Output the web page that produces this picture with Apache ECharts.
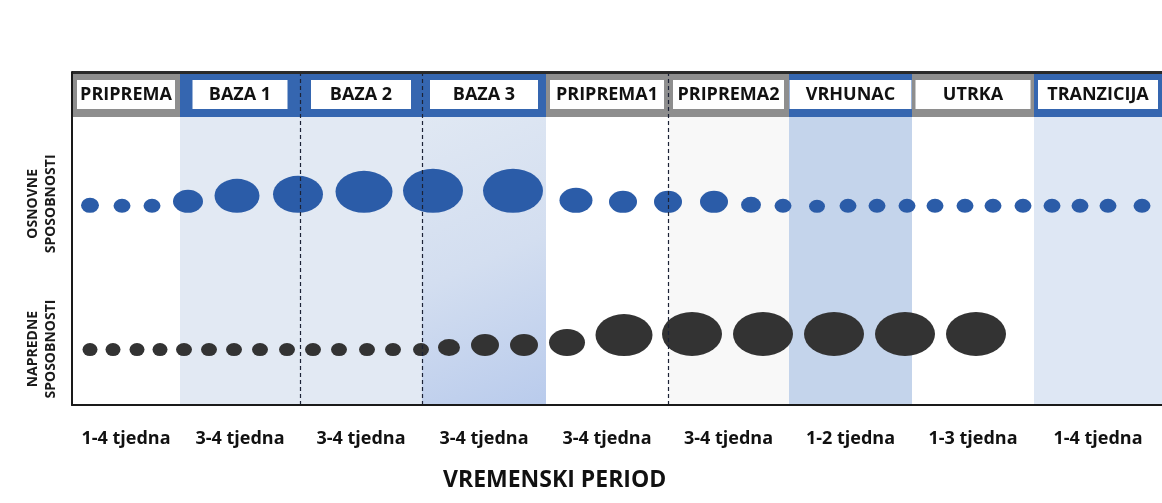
<!DOCTYPE html>
<html>
<head>
<meta charset="utf-8">
<script src="https://cdn.jsdelivr.net/npm/echarts@6/dist/echarts.min.js"></script>
<style>
  html, body { margin: 0; padding: 0; background: #fff; }
  #chart { width: 1162px; height: 503px; }
</style>
</head>
<body>
<div id="chart"></div>
<script>
// periodi
const periodNames = ['PRIPREMA', 'BAZA 1', 'BAZA 2', 'BAZA 3', 'PRIPREMA1', 'PRIPREMA2', 'VRHUNAC', 'UTRKA', 'TRANZICIJA'];
const periodWeeks = ['1-4 tjedna', '3-4 tjedna', '3-4 tjedna', '3-4 tjedna', '3-4 tjedna', '3-4 tjedna', '1-2 tjedna', '1-3 tjedna', '1-4 tjedna'];
const periodKinds = ['prep', 'base', 'base', 'base3', 'prep', 'prep2', 'peak', 'race', 'trans'];
// granice perioda na vremenskoj osi
const periodEdges = [0, 108, 228, 350, 474, 596, 717, 840, 962, 1090];
const dashedEdges = [228, 350, 596];

// redovi (sposobnosti)
const rowNames = ['NAPREDNE\nSPOSOBNOSTI', 'OSNOVNE\nSPOSOBNOSTI'];
const rowLevels = [14.7, 57.7];
const rowLabelLevels = [16.8, 60.4];

// osnovne sposobnosti: položaj u vremenu i opseg (veličina točke)
const basicX = [18, 50, 80, 116, 165, 226, 292, 361, 441, 504, 551, 596, 642, 679, 711, 745, 776, 805, 835, 863, 893, 921, 951, 980, 1008, 1036, 1070];
const basicVolume = [18, 17, 17, 30, 45, 50, 57, 60, 60, 33, 28, 28, 28, 20, 17, 16, 17, 17, 17, 17, 17, 17, 17, 17, 17, 17, 17];

// napredne sposobnosti
const advancedX = [18, 41, 65, 88, 112, 137, 162, 188, 215, 241, 267, 295, 321, 349, 377, 413, 452, 495, 552, 620, 691, 762, 833, 904];
const advancedVolume = [15, 15, 15, 15, 16, 16, 16, 16, 16, 16, 16, 16, 16, 16, 22, 28, 28, 36, 57, 60, 60, 60, 60, 60];

const headerBottom = 86.5;
const FONT = '"Open Sans", sans-serif';

const chart = echarts.init(document.getElementById('chart'));

const headerColor = { prep: '#8e8e8e', prep2: '#8e8e8e', race: '#8e8e8e', base: '#3566b0', base3: '#3566b0', peak: '#3566b0', trans: '#3566b0' };
const bodyColor = {
  prep: '#ffffff',
  prep2: '#f8f8f8',
  race: '#ffffff',
  base: '#e2e9f3',
  base3: new echarts.graphic.LinearGradient(0, 0, 1, 1, [
    { offset: 0, color: '#e0e8f3' },
    { offset: 0.5, color: '#d3def0' },
    { offset: 1, color: '#b9cbec' }
  ]),
  peak: '#c4d4eb',
  trans: '#dee7f4'
};
const boxWidth = [98, 95, 100, 108, 114, 111, 122, 115, 120];

const centers = periodNames.map((n, i) => (periodEdges[i] + periodEdges[i + 1]) / 2);

const ellipseH = (w) => Math.round(w * 0.7 + 2);

const makeDots = (xs, vols, level) => xs.map((x, i) => {
  const h = ellipseH(vols[i]);
  return {
    value: [x, level, vols[i]],
    symbolSize: [vols[i], h],
    symbolOffset: [0, -h / 2]
  };
});

const headerAreas = periodNames.map((name, i) => [
  {
    name: name,
    xAxis: periodEdges[i],
    yAxis: headerBottom,
    itemStyle: { color: headerColor[periodKinds[i]] },
    label: {
      show: true,
      position: 'inside',
      formatter: '{b}',
      backgroundColor: '#ffffff',
      width: boxWidth[i],
      height: 29,
      lineHeight: 29,
      align: 'center',
      verticalAlign: 'middle',
      color: '#111',
      fontSize: 18,
      fontWeight: 'bold',
      fontFamily: FONT
    }
  },
  { xAxis: periodEdges[i + 1], yAxis: 100 }
]);

const bodyAreas = periodNames.map((name, i) => [
  {
    xAxis: periodEdges[i],
    yAxis: 0,
    itemStyle: { color: bodyColor[periodKinds[i]] }
  },
  { xAxis: periodEdges[i + 1], yAxis: headerBottom }
]);

const option = {
  animation: false,
  textStyle: { fontFamily: FONT },
  title: {
    text: 'VREMENSKI PERIOD',
    left: 438,
    top: 464,
    textStyle: { fontSize: 23, fontWeight: 'bold', color: '#111', fontFamily: FONT }
  },
  grid: {
    left: 72,
    right: 0,
    top: 72,
    bottom: 98,
    containLabel: false,
    outerBoundsMode: 'none'
  },
  xAxis: {
    type: 'value',
    min: 0,
    max: 1090,
    z: 5,
    axisLine: { show: true, lineStyle: { color: '#1a1a1a', width: 2 } },
    axisTick: { show: false },
    splitLine: { show: false },
    axisLabel: {
      customValues: centers,
      formatter: (v) => periodWeeks[centers.indexOf(v)],
      margin: 25,
      fontSize: 18,
      fontWeight: 'bold',
      color: '#111',
      fontFamily: FONT
    }
  },
  yAxis: {
    type: 'value',
    min: 0,
    max: 100,
    z: 5,
    axisLine: { show: true, lineStyle: { color: '#1a1a1a', width: 2 } },
    axisTick: { show: false },
    splitLine: { show: false },
    axisLabel: {
      customValues: rowLabelLevels,
      formatter: (v) => rowNames[rowLabelLevels.indexOf(v)],
      rotate: 90,
      margin: 12,
      lineHeight: 18,
      fontSize: 14,
      fontWeight: 'bold',
      color: '#1a1a1a',
      fontFamily: FONT
    }
  },
  series: [
    {
      name: 'periodi',
      type: 'scatter',
      z: 1,
      data: [],
      silent: true,
      markArea: {
        silent: true,
        data: bodyAreas.concat(headerAreas)
      }
    },
    {
      name: 'granice',
      type: 'scatter',
      z: 2,
      data: [],
      silent: true,
      markLine: {
        silent: true,
        symbol: 'none',
        label: { show: false },
        data: dashedEdges.map((x) => ({
          xAxis: x,
          lineStyle: { color: '#1c2236', width: 1.2, type: [4, 3] }
        })).concat([{
          yAxis: 100,
          lineStyle: { color: '#2a2a2a', width: 3, type: 'solid' }
        }])
      }
    },
    {
      name: 'OSNOVNE SPOSOBNOSTI',
      type: 'scatter',
      z: 3,
      symbol: 'circle',
      itemStyle: { color: '#2b5ca8', opacity: 1 },
      data: makeDots(basicX, basicVolume, rowLevels[1])
    },
    {
      name: 'NAPREDNE SPOSOBNOSTI',
      type: 'scatter',
      z: 3,
      symbol: 'circle',
      itemStyle: { color: '#333333', opacity: 1 },
      data: makeDots(advancedX, advancedVolume, rowLevels[0])
    }
  ]
};

chart.setOption(option);
window.addEventListener('resize', () => chart.resize());
</script>
</body>
</html>
